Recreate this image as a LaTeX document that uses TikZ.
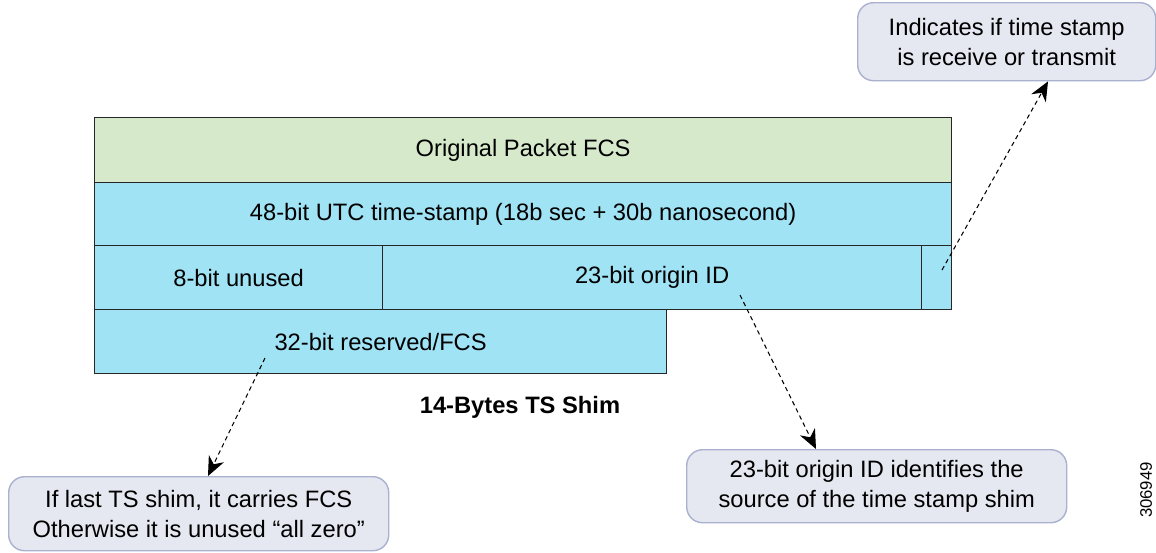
\documentclass[tikz,border=0pt]{standalone}
\usepackage{fontspec}
\setmainfont{Liberation Sans}
\usetikzlibrary{arrows.meta}
\definecolor{greenfill}{HTML}{D6EACB}
\definecolor{bluefill}{HTML}{A0E3F5}
\definecolor{callfill}{HTML}{E6E8F1}
\definecolor{calldraw}{HTML}{A9B1CF}
\begin{document}
\begin{tikzpicture}[x=0.02cm,y=-0.02cm,
  cell/.style={draw=black!85,line width=0.7pt,anchor=north west,inner sep=0pt,
    font=\fontsize{13.5}{16}\selectfont},
  callout/.style={draw=calldraw,fill=callfill,line width=0.8pt,rounded corners=9pt,
    anchor=north west,inner sep=0pt,align=center,
    font=\fontsize{13.5}{17}\selectfont},
  conn/.style={draw=black,line width=0.6pt,dash pattern=on 2.5pt off 2pt,
    -{Stealth[length=11pt,width=9.5pt]}}]
\useasboundingbox (0,0) rectangle (1156,552);
% cells
\node[cell,fill=greenfill,minimum width=857*0.02cm,minimum height=65*0.02cm] (fcs) at (94,117) {Original Packet FCS};
\node[cell,fill=bluefill,minimum width=857*0.02cm,minimum height=63*0.02cm] (utc) at (94,182) {48-bit UTC time-stamp (18b sec + 30b nanosecond)};
\node[cell,fill=bluefill,minimum width=288*0.02cm,minimum height=64*0.02cm] (unused) at (94,245) {8-bit unused};
\node[cell,fill=bluefill,minimum width=539*0.02cm,minimum height=64*0.02cm] (origin) at (382,245) {23-bit origin ID};
\node[cell,fill=bluefill,minimum width=30*0.02cm,minimum height=64*0.02cm] (rt) at (921,245) {};
\node[cell,fill=bluefill,minimum width=572*0.02cm,minimum height=64*0.02cm] (res) at (94,309) {32-bit reserved/FCS};
% title
\node[font=\bfseries\fontsize{13.5}{16}\selectfont] (title) at (520,407) {14-Bytes TS Shim};
% callouts
\node[callout,minimum width=298*0.02cm,minimum height=78*0.02cm] (c1) at (857,2) {Indicates if time stamp\\is receive or transmit};
\node[callout,minimum width=380*0.02cm,minimum height=74*0.02cm] (c2) at (8,476) {If last TS shim, it carries FCS\\Otherwise it is unused “all zero”};
\node[callout,minimum width=380*0.02cm,minimum height=73*0.02cm] (c3) at (686,449) {23-bit origin ID identifies the\\source of the time stamp shim};
% connectors
\coordinate (s1) at (942,270);
\coordinate (s2) at (265,358);
\coordinate (s3) at (740,295);
\draw[conn] (s1) -- (c1.south west -| 1048,0);
\draw[conn] (s2) -- (c2.north west -| 208,0);
\draw[conn] (s3) -- (c3.north west -| 816,0);
% figure number
\node[rotate=90,font=\fontsize{9.5}{12}\selectfont] (num) at (1146,490) {306949};
\end{tikzpicture}
\end{document}
